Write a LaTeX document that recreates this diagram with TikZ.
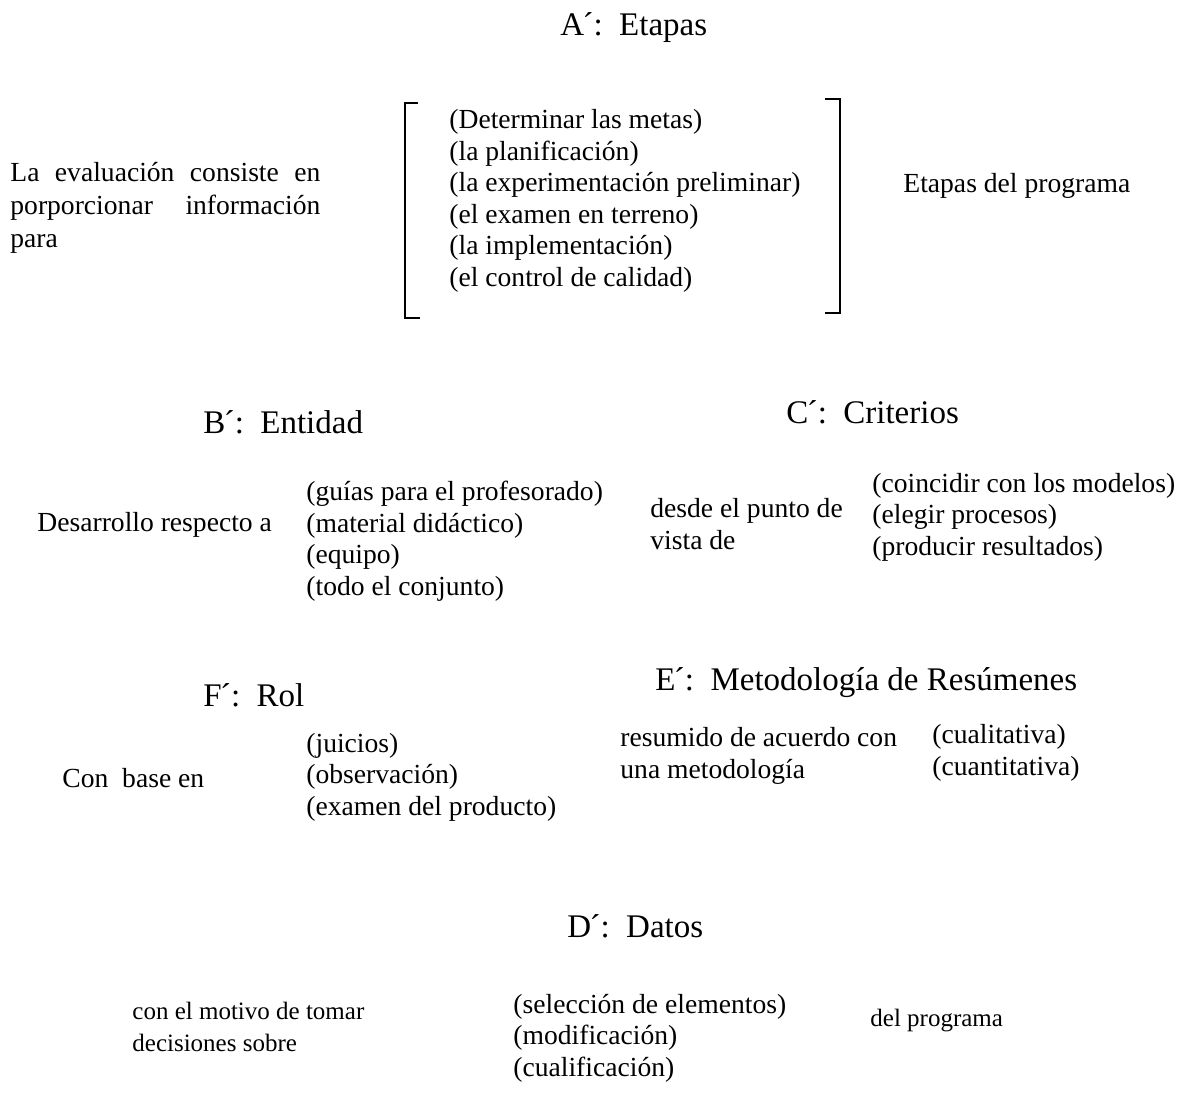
\documentclass[tikz,border=0pt]{standalone}
\usepackage{fontspec}
\setmainfont{Liberation Serif}
\usetikzlibrary{positioning}
\tikzset{
  titulo/.style={anchor=west,inner sep=0pt,font=\fontsize{16.5}{19}\selectfont},
  texto/.style={anchor=west,inner sep=0pt,align=left,font=\fontsize{13.8}{15.75}\selectfont},
  angosto/.style={texto,font=\fontsize{12.5}{15.75}\selectfont},
  corchete/.style={line width=1.2pt,line cap=butt}
}
\begin{document}
\begin{tikzpicture}[x=0.5pt,y=-0.5pt]
  \useasboundingbox (0,0) rectangle (1190,1113);
  % A: Etapas
  \node[titulo] (tituloA) at (560,28) {A\kern-0.05em´:\hspace{0.5em}Etapas};
  \node[texto,font=\fontsize{13.8}{16.5}\selectfont] (introA) at (10,208)
    {\makebox[155pt][s]{La evaluación consiste en}\\\makebox[155pt][s]{porporcionar información}\\para};
  \node[texto] (listaA) at (449,201) {(Determinar las metas)\\(la planificación)\\(la experimentación preliminar)\\(el examen en terreno)\\(la implementación)\\(el control de calidad)};
  \node[texto] (etapasA) at (903,186) {Etapas del programa};
  \draw[corchete] (418,103) -- (405,103) -- (405,318) -- (420,318);
  \draw[corchete] (825,99) -- (840,99) -- (840,313) -- (825,313);
  % B: Entidad
  \node[titulo] (tituloB) at (203,422) {B\kern-0.05em´:\hspace{0.5em}Entidad};
  \node[texto] (introB) at (37,525) {Desarrollo respecto a};
  \node[texto] (listaB) at (306,541) {(guías para el profesorado)\\(material didáctico)\\(equipo)\\(todo el conjunto)};
  % C: Criterios
  \node[titulo] (tituloC) at (786,412) {C\kern-0.05em´:\hspace{0.5em}Criterios};
  \node[texto] (introC) at (650,524) {desde el punto de\\vista de};
  \node[texto] (listaC) at (872,517) {(coincidir con los modelos)\\(elegir procesos)\\(producir resultados)};
  % F: Rol
  \node[titulo] (tituloF) at (203,695) {F\kern-0.05em´:\hspace{0.5em}Rol};
  \node[texto] (introF) at (62,778) {Con\ \ base en};
  \node[texto] (listaF) at (306,777) {(juicios)\\(observación)\\(examen del producto)};
  % E: Metodologia
  \node[titulo] (tituloE) at (655,683) {E\kern-0.05em´:\hspace{0.5em}Metodología de Resúmenes};
  \node[texto] (introE) at (620,756) {resumido de acuerdo con\\una metodología};
  \node[texto] (listaE) at (932,753) {(cualitativa)\\(cuantitativa)};
  % D: Datos
  \node[titulo] (tituloD) at (567,926) {D\kern-0.05em´:\hspace{0.5em}Datos};
  \node[angosto] (introD) at (132,1027) {con el motivo de tomar\\decisiones sobre};
  \node[texto] (listaD) at (513,1038) {(selección de elementos)\\(modificación)\\(cualificación)};
  \node[angosto] (finD) at (870,1021) {del programa};
\end{tikzpicture}
\end{document}
